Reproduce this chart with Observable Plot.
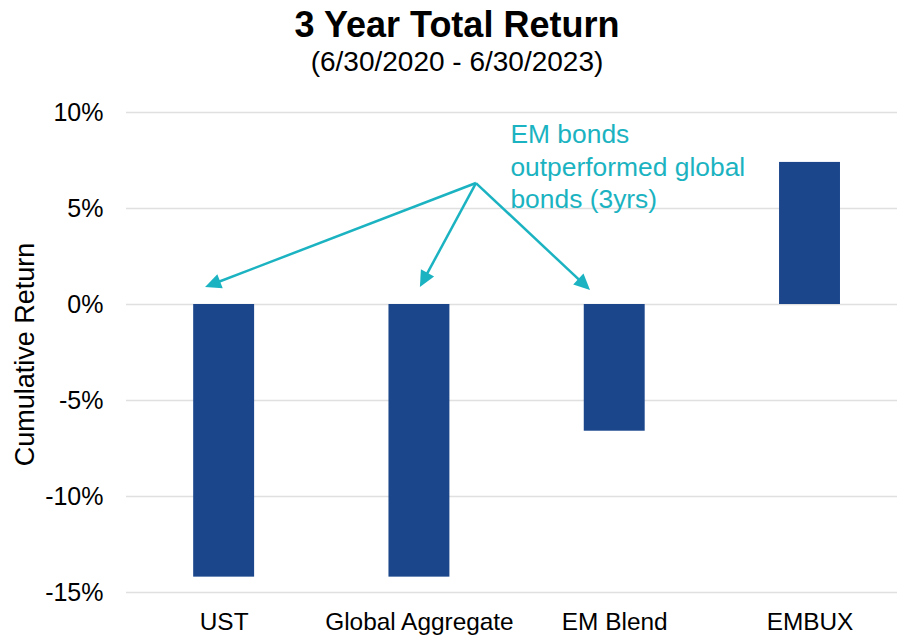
<!DOCTYPE html>
<html><head><meta charset="utf-8">
<script src="https://cdn.jsdelivr.net/npm/d3@7"></script>
<script src="https://cdn.jsdelivr.net/npm/@observablehq/plot@0.6"></script>
<style>
body{margin:0;background:#fff;font-family:"Liberation Sans",Arial,sans-serif;}
#wrap{position:relative;width:897px;height:637px;overflow:hidden;background:#fff}
#title{position:absolute;left:17px;right:0;top:6.5px;text-align:center;font-size:36px;font-weight:bold;line-height:36px;color:#000}
#subtitle{position:absolute;left:17px;right:0;top:48px;text-align:center;font-size:28px;line-height:28px;color:#000}
#chart{position:absolute;left:0;top:90px}
</style></head><body>
<div id="wrap"><div id="title">3 Year Total Return</div><div id="subtitle">(6/30/2020 - 6/30/2023)</div><div id="chart"></div></div>
<script>
const categories = ["UST", "Global Aggregate", "EM Blend", "EMBUX"];
const returns = [-14.2, -14.2, -6.6, 7.4];
const yTicks = [-15, -10, -5, 0, 5, 10];
const yLabel = "Cumulative Return";
const noteLines = ["EM bonds", "outperformed global", "bonds (3yrs)"];
const noteAnchor = {x: 1.466, y: 9.58};
const arrowOrigin = {x: 1.292, y: 6.3};
const arrowTips = [{x: -0.095, y: 0.885}, {x: 1.005, y: 0.885}, {x: 1.876, y: 0.73}];

const barColor = "#1b468c";
const teal = "#1bb3c1";
const data = categories.map((c, i) => ({i, c, v: returns[i]}));

function arrowRender(index, scales, values) {
  const {x1, y1, x2, y2} = values;
  const g = d3.create("svg:g");
  for (const i of index) {
    const ax = x1[i], ay = y1[i], bx = x2[i], by = y2[i];
    const dx = bx - ax, dy = by - ay, L = Math.hypot(dx, dy), ux = dx / L, uy = dy / L;
    const hl = 16, hw = 7.5;
    const baseX = bx - ux * hl, baseY = by - uy * hl;
    g.append("line").attr("x1", ax).attr("y1", ay).attr("x2", baseX + ux * 2).attr("y2", baseY + uy * 2)
      .attr("stroke", teal).attr("stroke-width", 2.5);
    g.append("path")
      .attr("d", `M${bx},${by}L${baseX - uy * hw},${baseY + ux * hw}L${baseX + uy * hw},${baseY - ux * hw}Z`)
      .attr("fill", teal);
  }
  return g.node();
}

const chart = Plot.plot({
  width: 897, height: 547,
  marginLeft: 126, marginRight: 0, marginTop: 22, marginBottom: 45,
  style: {fontFamily: "Liberation Sans, Arial, sans-serif", fontSize: "24px", color: "#000", background: "white", overflow: "visible"},
  x: {domain: [-0.5, 3.448]},
  y: {domain: [-15, 10]},
  marks: [
    Plot.ruleY(yTicks, {stroke: "#e0e0e0", strokeWidth: 1.5}),
    Plot.rect(data, {x1: d => d.i - 0.156, x2: d => d.i + 0.156, y1: 0, y2: "v", fill: barColor}),
    Plot.axisY(yTicks, {tickSize: 0, tickPadding: 23, tickFormat: d => d + "%", label: null, fontSize: 25}),
    Plot.axisX(categories.map((c, i) => i), {tickSize: 0, tickPadding: 20, tickFormat: i => categories[i], label: null, fontSize: 24.4}),
    Plot.text([yLabel], {text: d => d, frameAnchor: "left", textAnchor: "middle", rotate: -90, dx: -101, dy: 2, fontSize: 27}),
    Plot.text([noteLines.join("\n")], {text: d => d, x: noteAnchor.x, y: noteAnchor.y, textAnchor: "start", lineAnchor: "top", lineHeight: 1.22, fontSize: 26.4, fill: teal}),
    Plot.link(arrowTips, {x1: () => arrowOrigin.x, y1: () => arrowOrigin.y, x2: "x", y2: "y", stroke: teal, strokeWidth: 2.5, render: arrowRender})
  ]
});
document.getElementById("chart").appendChild(chart);
</script>
</body></html>
